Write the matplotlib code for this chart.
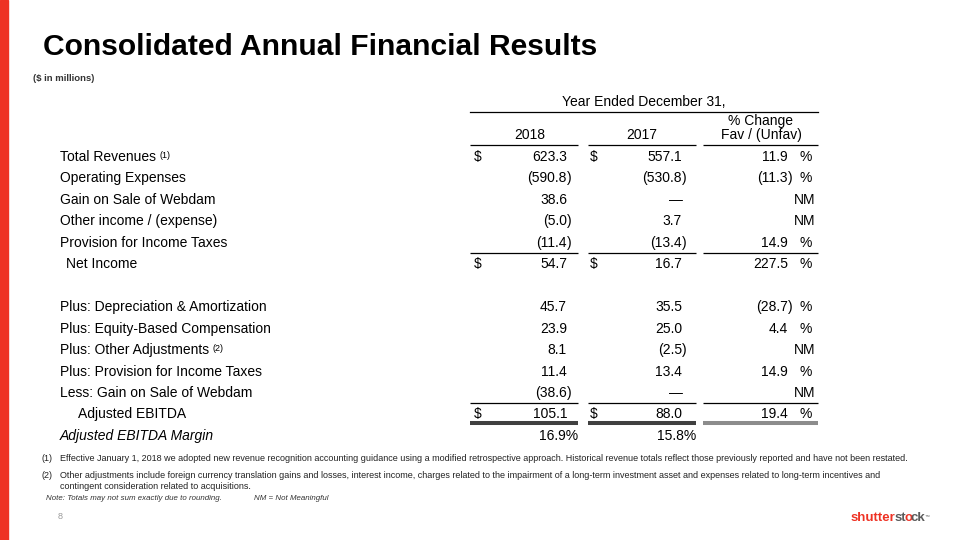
import matplotlib
matplotlib.use("Agg")
from matplotlib import pyplot as plt
from matplotlib.patches import Rectangle

plt.rcParams['font.family'] = ['Liberation Sans', 'DejaVu Sans']

# table data
labels_top = ["Total Revenues", "Operating Expenses", "Gain on Sale of Webdam",
              "Other income / (expense)", "Provision for Income Taxes", "Net Income"]
v2018_top = [623.3, -590.8, 38.6, -5.0, -11.4, 54.7]
v2017_top = [557.1, -530.8, None, 3.7, -13.4, 16.7]
chg_top = [11.9, -11.3, "NM", "NM", 14.9, 227.5]

labels_bot = ["Plus: Depreciation & Amortization", "Plus: Equity-Based Compensation",
              "Plus: Other Adjustments", "Plus: Provision for Income Taxes",
              "Less: Gain on Sale of Webdam", "Adjusted EBITDA"]
v2018_bot = [45.7, 23.9, 8.1, 11.4, -38.6, 105.1]
v2017_bot = [35.5, 25.0, -2.5, 13.4, None, 88.0]
chg_bot = [-28.7, 4.4, "NM", 14.9, "NM", 19.4]

margin_label = "Adjusted EBITDA Margin"
margin = [16.9, 15.8]
years = ["2018", "2017"]

notes = [
    "Effective January 1, 2018 we adopted new revenue recognition accounting guidance using a modified retrospective approach. Historical revenue totals reflect those previously reported and have not been restated.",
    "Other adjustments include foreign currency translation gains and losses, interest income, charges related to the impairment of a long-term investment asset and expenses related to long-term incentives and\ncontingent consideration related to acquisitions.",
]

RED = "#EE3224"
fig = plt.figure(figsize=(9.6, 5.4), dpi=100)
ax = fig.add_axes([0, 0, 1, 1])
ax.set_xlim(0, 960)
ax.set_ylim(540, 0)
ax.axis("off")

ax.add_patch(Rectangle((0, 0), 8, 540, color=RED))
ax.text(43, 55, "Consolidated Annual Financial Results", fontsize=21.6, fontweight="bold",
        va="baseline", color="#000000")
ax.text(33, 81, "($ in millions)", fontsize=6.8, fontweight="bold", va="baseline", color="#333333")

fs = 10
# header
ax.text(644, 106, "Year Ended December 31,", fontsize=fs, ha="center", va="baseline")
ax.plot([470, 818], [111.5, 111.5], color="black", lw=0.9)
ax.text(530, 139, years[0], fontsize=fs, ha="center", va="baseline")
ax.text(642, 139, years[1], fontsize=fs, ha="center", va="baseline")
ax.text(761, 125.5, "% Change", fontsize=fs, ha="center", va="baseline")
ax.text(761, 139, "Fav / (Unfav)", fontsize=fs, ha="center", va="baseline")

cols = [(470, 578), (588, 696), (703, 818)]
def rule(y, lw=0.9, colors=("black", "black", "black")):
    for (a, b), c in zip(cols, colors):
        ax.plot([a, b], [y, y], color=c, lw=lw, solid_capstyle="butt")

rule(144.5)

def num(x, y, v, dash_x):
    if v is None:
        ax.text(dash_x, y, "\u2014", fontsize=fs, ha="right", va="baseline")
    elif v < 0:
        ax.text(x, y, "(%.1f" % abs(v), fontsize=fs, ha="right", va="baseline")
        ax.text(x, y, ")", fontsize=fs, ha="left", va="baseline")
    else:
        ax.text(x, y, "%.1f" % v, fontsize=fs, ha="right", va="baseline")

def pct(y, v):
    if v == "NM":
        ax.text(815, y, "NM", fontsize=fs, ha="right", va="baseline")
        return
    num(788, y, v, 788)
    ax.text(799, y, "%", fontsize=fs, ha="left", va="baseline")

step = 21.45
def row_y(i):
    return 161 + i * step

rows = []
for i in range(6):
    rows.append((i, labels_top[i], v2018_top[i], v2017_top[i], chg_top[i]))
for i in range(6):
    rows.append((i + 7, labels_bot[i], v2018_bot[i], v2017_bot[i], chg_bot[i]))

indent = {"Net Income": 66, "Adjusted EBITDA": 78}
sup = {"Total Revenues": "(1)", "Plus: Other Adjustments": "(2)"}
dollar_rows = {"Total Revenues", "Net Income", "Adjusted EBITDA"}

for i, lab, a, b, c in rows:
    y = row_y(i)
    t = ax.text(indent.get(lab, 60), y, lab, fontsize=fs, va="baseline")
    if lab in sup:
        ax.annotate(sup[lab], xy=(1, 1), xycoords=t, xytext=(2.5, -1),
                    textcoords="offset points", fontsize=6.5, ha="left", va="top")
    if lab in dollar_rows:
        ax.text(474, y, "$", fontsize=fs, va="baseline")
        ax.text(590, y, "$", fontsize=fs, va="baseline")
    num(567, y, a, 567)
    num(682, y, b, 683)
    pct(y, c)

rule(row_y(4) + 6.5)
rule(row_y(11) + 6.5)
rule(row_y(12) + 4.5, lw=2.9, colors=("#404040", "#404040", "#8c8c8c"))

y = row_y(13)
ax.text(60, y, margin_label, fontsize=fs, style="italic", va="baseline")
ax.text(578, y, "%.1f%%" % margin[0], fontsize=fs, ha="right", va="baseline")
ax.text(696, y, "%.1f%%" % margin[1], fontsize=fs, ha="right", va="baseline")

# footnotes
nfs = 6.45
ax.text(42, 461, "(1)", fontsize=nfs, va="baseline", color="#222222")
ax.text(60, 461, notes[0], fontsize=nfs, va="baseline", color="#222222")
ax.text(42, 478, "(2)", fontsize=nfs, va="baseline", color="#222222")
ax.text(60, 478, notes[1].split("\n")[0], fontsize=nfs, va="baseline", color="#222222")
ax.text(60, 489, notes[1].split("\n")[1], fontsize=nfs, va="baseline", color="#222222")
ax.text(46, 500, "Note: Totals may not sum exactly due to rounding.", fontsize=5.7,
        style="italic", va="baseline", color="#333333")
ax.text(254, 500, "NM = Not Meaningful", fontsize=5.7, style="italic", va="baseline",
        color="#333333")
ax.text(58, 519, "8", fontsize=6.5, va="baseline", color="#9a9a9a")

# logo
GRAY = "#5b5b5b"
prev = ax.text(851, 521, "shutter", fontsize=9.5, fontweight="bold", color=RED, va="baseline")
for s, c in [("st", GRAY), ("o", RED), ("ck", GRAY)]:
    prev = ax.annotate(s, xy=(1, 0), xycoords=prev, xytext=(-1.2, 0), textcoords="offset points",
                       fontsize=9.5, fontweight="bold", color=c, ha="left", va="bottom")
ax.annotate("\u2122", xy=(1, 1), xycoords=prev, xytext=(-0.5, -1), textcoords="offset points",
            fontsize=3.5, color=GRAY, ha="left", va="top")

fig.savefig("out.png", dpi=100)
